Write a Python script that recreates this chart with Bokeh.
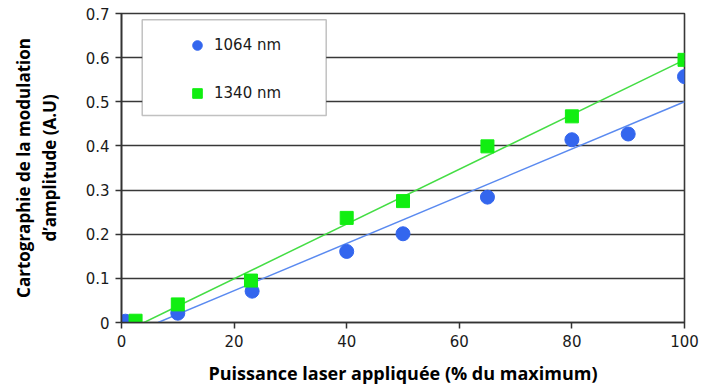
from bokeh.plotting import figure
from bokeh.models import Range1d, FixedTicker, Title, Legend, LegendItem, BoxAnnotation
from bokeh.embed import file_html
from bokeh.resources import INLINE

# ---- data ----
blue_x = [0.7, 10, 23.2, 40, 50, 65, 80, 90, 100]
blue_y = [0.003, 0.021, 0.071, 0.161, 0.201, 0.284, 0.414, 0.427, 0.557]
green_x = [2.5, 10, 23, 40, 50, 65, 80, 100]
green_y = [0.004, 0.041, 0.095, 0.237, 0.275, 0.399, 0.467, 0.595]

# linear trend lines (end points)
blue_fit_x = [6.5, 100]
blue_fit_y = [0.0, 0.5]
green_fit_x = [4.0, 100]
green_fit_y = [0.0, 0.595]

series_labels = ["1064 nm", "1340 nm"]
x_ticks = [0, 20, 40, 60, 80, 100]
y_ticks = [0, 0.1, 0.2, 0.3, 0.4, 0.5, 0.6, 0.7]
y_tick_labels = ["0", "0.1", "0.2", "0.3", "0.4", "0.5", "0.6", "0.7"]

x_title = "Puissance laser appliquée (% du maximum)"
y_title_1 = "Cartographie de la modulation"
y_title_2 = "d’amplitude (A.U)"

BLUE = "#3366EE"
GREEN = "#11EE11"
BLUE_LINE = "#5A8AF0"
GREEN_LINE = "#44DD44"
GRID = "#383838"
TITLE_FONT = "Open Sans"
TICK_FONT = "DejaVu Sans"

p = figure(width=704, height=390, output_backend="svg", toolbar_location=None,
           x_range=Range1d(0, 100), y_range=Range1d(0, 0.7),
           min_border_left=121, min_border_right=20, min_border_top=13,
           min_border_bottom=68, background_fill_color="white",
           border_fill_color="white")

p.xgrid.visible = False
p.ygrid.ticker = FixedTicker(ticks=y_ticks[1:])
p.ygrid.grid_line_color = GRID
p.ygrid.grid_line_width = 1.6
p.outline_line_color = GRID
p.outline_line_width = 1.6

for ax in (p.xaxis[0], p.yaxis[0]):
    ax.axis_line_color = "#333333"
    ax.axis_line_width = 1.6
    ax.major_tick_line_color = "#333333"
    ax.major_tick_line_width = 1.5
    ax.major_tick_in = 0
    ax.major_tick_out = 6
    ax.minor_tick_line_color = None
    ax.major_label_text_font = TICK_FONT
    ax.major_label_text_font_size = "15px"
    ax.major_label_text_color = "#1a1a1a"
    ax.major_label_standoff = 6
    ax.axis_label_text_font = TITLE_FONT
    ax.axis_label_text_font_style = "bold"
    ax.axis_label_text_color = "black"

p.xaxis.ticker = FixedTicker(ticks=x_ticks)
p.yaxis.ticker = FixedTicker(ticks=y_ticks)
p.yaxis.major_label_overrides = {t: l for t, l in zip(y_ticks, y_tick_labels)}

p.xaxis.axis_label = x_title
p.xaxis.axis_label_text_font_size = "18px"
p.xaxis.axis_label_standoff = 11
p.yaxis.axis_label = y_title_2
p.yaxis.axis_label_text_font_size = "17px"
p.yaxis.axis_label_standoff = 22

t1 = Title(text=y_title_1, align="center", text_font=TITLE_FONT,
           text_font_style="bold", text_font_size="17px", text_color="black",
           standoff=0, offset=0)
p.add_layout(t1, "left")

# legend frame
box = BoxAnnotation(left=3.68, right=36.36, bottom=0.469, top=0.686,
                    fill_color="white", fill_alpha=1.0,
                    line_color="#333333", line_width=1.5, level="underlay")
p.add_layout(box)

p.line(blue_fit_x, blue_fit_y, line_color=BLUE_LINE, line_width=1.5)
p.line(green_fit_x, green_fit_y, line_color=GREEN_LINE, line_width=1.5)

rb = p.scatter(blue_x, blue_y, marker="circle", size=14, fill_color=BLUE,
               line_color=BLUE)
rg = p.scatter(green_x, green_y, marker="square", size=13, fill_color=GREEN,
               line_color=GREEN)

legend = Legend(items=[LegendItem(label=series_labels[0], renderers=[rb]),
                       LegendItem(label=series_labels[1], renderers=[rg])],
                location=(64, 217), orientation="vertical",
                glyph_width=24, glyph_height=24, label_height=24,
                label_standoff=5, spacing=24, padding=0, margin=0,
                border_line_alpha=0, background_fill_alpha=0,
                label_text_font=TICK_FONT, label_text_font_size="15px",
                label_text_color="#1a1a1a")
p.add_layout(legend, "center")

open("out.html", "w").write(file_html(p, INLINE))
